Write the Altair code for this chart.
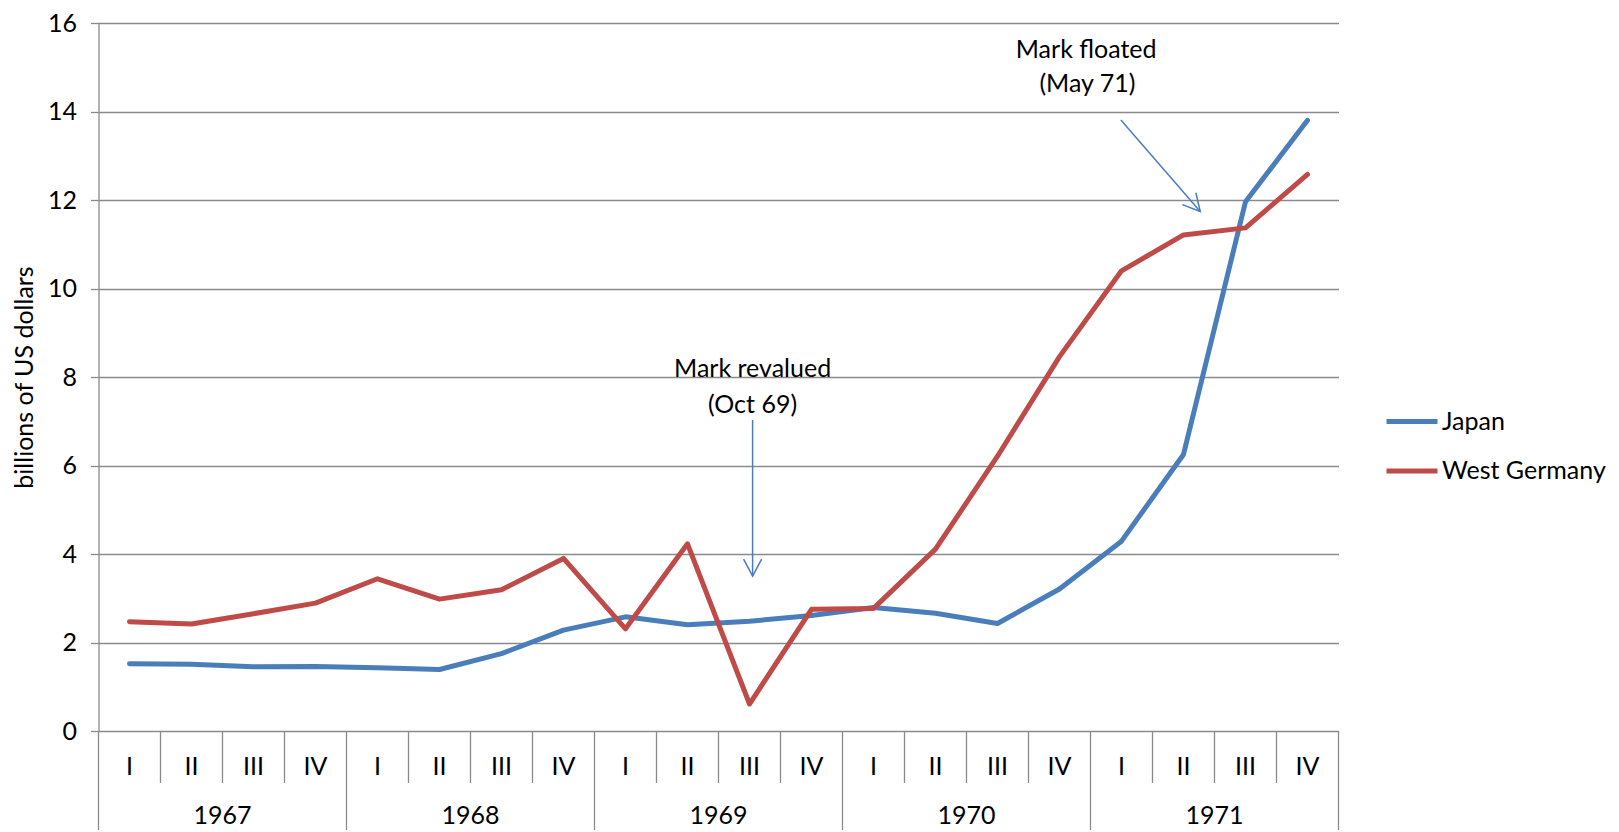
import altair as alt
import pandas as pd

# ---- data ----
quarters = ["I", "II", "III", "IV"] * 5
years = ["1967", "1968", "1969", "1970", "1971"]
japan = [1.52, 1.51, 1.45, 1.46, 1.43, 1.39, 1.75, 2.28, 2.58, 2.40,
         2.48, 2.61, 2.79, 2.66, 2.43, 3.21, 4.29, 6.25, 11.96, 13.80]
west_germany = [2.47, 2.42, 2.65, 2.89, 3.44, 2.98, 3.19, 3.90, 2.31, 4.23,
                0.61, 2.75, 2.77, 4.11, 6.21, 8.46, 10.40, 11.21, 11.37, 12.58]
series_names = ["Japan", "West Germany"]
series_colors = ["#4A7EBB", "#BE4B48"]

annot_text = ["Mark revalued", "(Oct 69)", "Mark floated", "(May 71)"]
annot_x = [10.55, 10.55, 15.93, 15.95]
annot_y = [8.19, 7.37, 15.39, 14.62]

arrow_x = [10.55, 16.49]
arrow_y = [7.03, 13.81]
arrow_x2 = [10.55, 17.77]
arrow_y2 = [3.50, 11.74]
arrow_angle = [0, 319]

# ---- layout ----
W = 1240
H = 708
TOP = 15
BOTTOM = 99
FONT = "Lato"
FS = 25
GRID = "#8A8A8A"

n = len(quarters)
rows = []
for i in range(n):
    rows.append({"pos": i + 0.5, "value": japan[i], "series": "Japan"})
    rows.append({"pos": i + 0.5, "value": west_germany[i], "series": "West Germany"})
df = pd.DataFrame(rows)

xs = alt.Scale(domain=[0, n], nice=False, zero=False)
ys = alt.Scale(domain=[0, 16], nice=False)

lines = alt.Chart(df).mark_line(strokeWidth=5, strokeCap="round", strokeJoin="round").encode(
    x=alt.X("pos:Q", scale=xs, axis=None),
    y=alt.Y("value:Q", scale=ys,
            axis=alt.Axis(values=list(range(0, 17, 2)), grid=True, gridColor=GRID, gridWidth=1.3,
                          domainColor=GRID, domainWidth=1.3, tickColor=GRID, tickWidth=1.3,
                          tickSize=8, labelFont=FONT, labelFontSize=FS, labelColor="black",
                          labelPadding=14, title="billions of US dollars", titleFont=FONT,
                          titleFontSize=FS, titleFontWeight="normal", titleColor="black",
                          titlePadding=10)),
    color=alt.Color("series:N",
                    scale=alt.Scale(domain=series_names, range=series_colors),
                    legend=alt.Legend(orient="none", legendX=1285.5, legendY=370.5, title=None,
                                      symbolType="stroke", symbolStrokeWidth=5, symbolSize=2601,
                                      labelFont=FONT, labelFontSize=FS, labelColor="black",
                                      labelOffset=2, labelLimit=400, rowPadding=8.5, padding=0)),
)

# category axis: quarter dividers, year dividers, labels
qdiv = pd.DataFrame({"b": [b for b in range(1, n) if b % 4 != 0]})
ydiv = pd.DataFrame({"b": list(range(0, n + 1, 4))})
qlab = pd.DataFrame({"pos": [i + 0.5 for i in range(n)], "label": quarters})
ylab = pd.DataFrame({"pos": [4 * k + 2 for k in range(len(years))], "label": years})

qrules = alt.Chart(qdiv).mark_rule(color=GRID, strokeWidth=1.3).encode(
    x=alt.X("b:Q", scale=xs, axis=None), y=alt.value(H), y2=alt.value(H + 52))
yrules = alt.Chart(ydiv).mark_rule(color=GRID, strokeWidth=1.3).encode(
    x=alt.X("b:Q", scale=xs, axis=None), y=alt.value(H), y2=alt.value(H + BOTTOM))
qtext = alt.Chart(qlab).mark_text(font=FONT, fontSize=FS, color="black", baseline="middle").encode(
    x=alt.X("pos:Q", scale=xs, axis=None), y=alt.value(H + 36), text="label:N")
ytext = alt.Chart(ylab).mark_text(font=FONT, fontSize=FS, color="black", baseline="alphabetic").encode(
    x=alt.X("pos:Q", scale=xs, axis=None), y=alt.value(H + BOTTOM - 6), text="label:N")

# annotations
adf = pd.DataFrame({"x": annot_x, "y": annot_y, "t": annot_text})
atext = alt.Chart(adf).mark_text(font=FONT, fontSize=FS, color="black", baseline="middle").encode(
    x=alt.X("x:Q", scale=xs, axis=None), y=alt.Y("y:Q", scale=ys), text="t:N")

arr = pd.DataFrame({"x": arrow_x, "y": arrow_y, "x2": arrow_x2, "y2": arrow_y2, "a": arrow_angle})
arrows = alt.Chart(arr).mark_rule(color="#4A7EBB", strokeWidth=1.5).encode(
    x=alt.X("x:Q", scale=xs, axis=None), y=alt.Y("y:Q", scale=ys), x2="x2:Q", y2="y2:Q")
heads = alt.Chart(arr).mark_point(shape="M-0.53,-1L0,0L0.53,-1", filled=False, color="#4A7EBB",
                                  strokeWidth=1.5, size=1156, opacity=1).encode(
    x=alt.X("x2:Q", scale=xs, axis=None), y=alt.Y("y2:Q", scale=ys), angle=alt.Angle("a:Q", scale=None))

chart = alt.layer(lines, qrules, yrules, qtext, ytext, arrows, heads, atext).properties(
    width=W, height=H,
    autosize=alt.AutoSizeParams(type="none"),
    padding={"left": 90.5, "top": TOP, "right": 270, "bottom": BOTTOM},
).configure_view(stroke=None)

chart.save("out.html", embed_options={"renderer": "svg", "actions": False})
